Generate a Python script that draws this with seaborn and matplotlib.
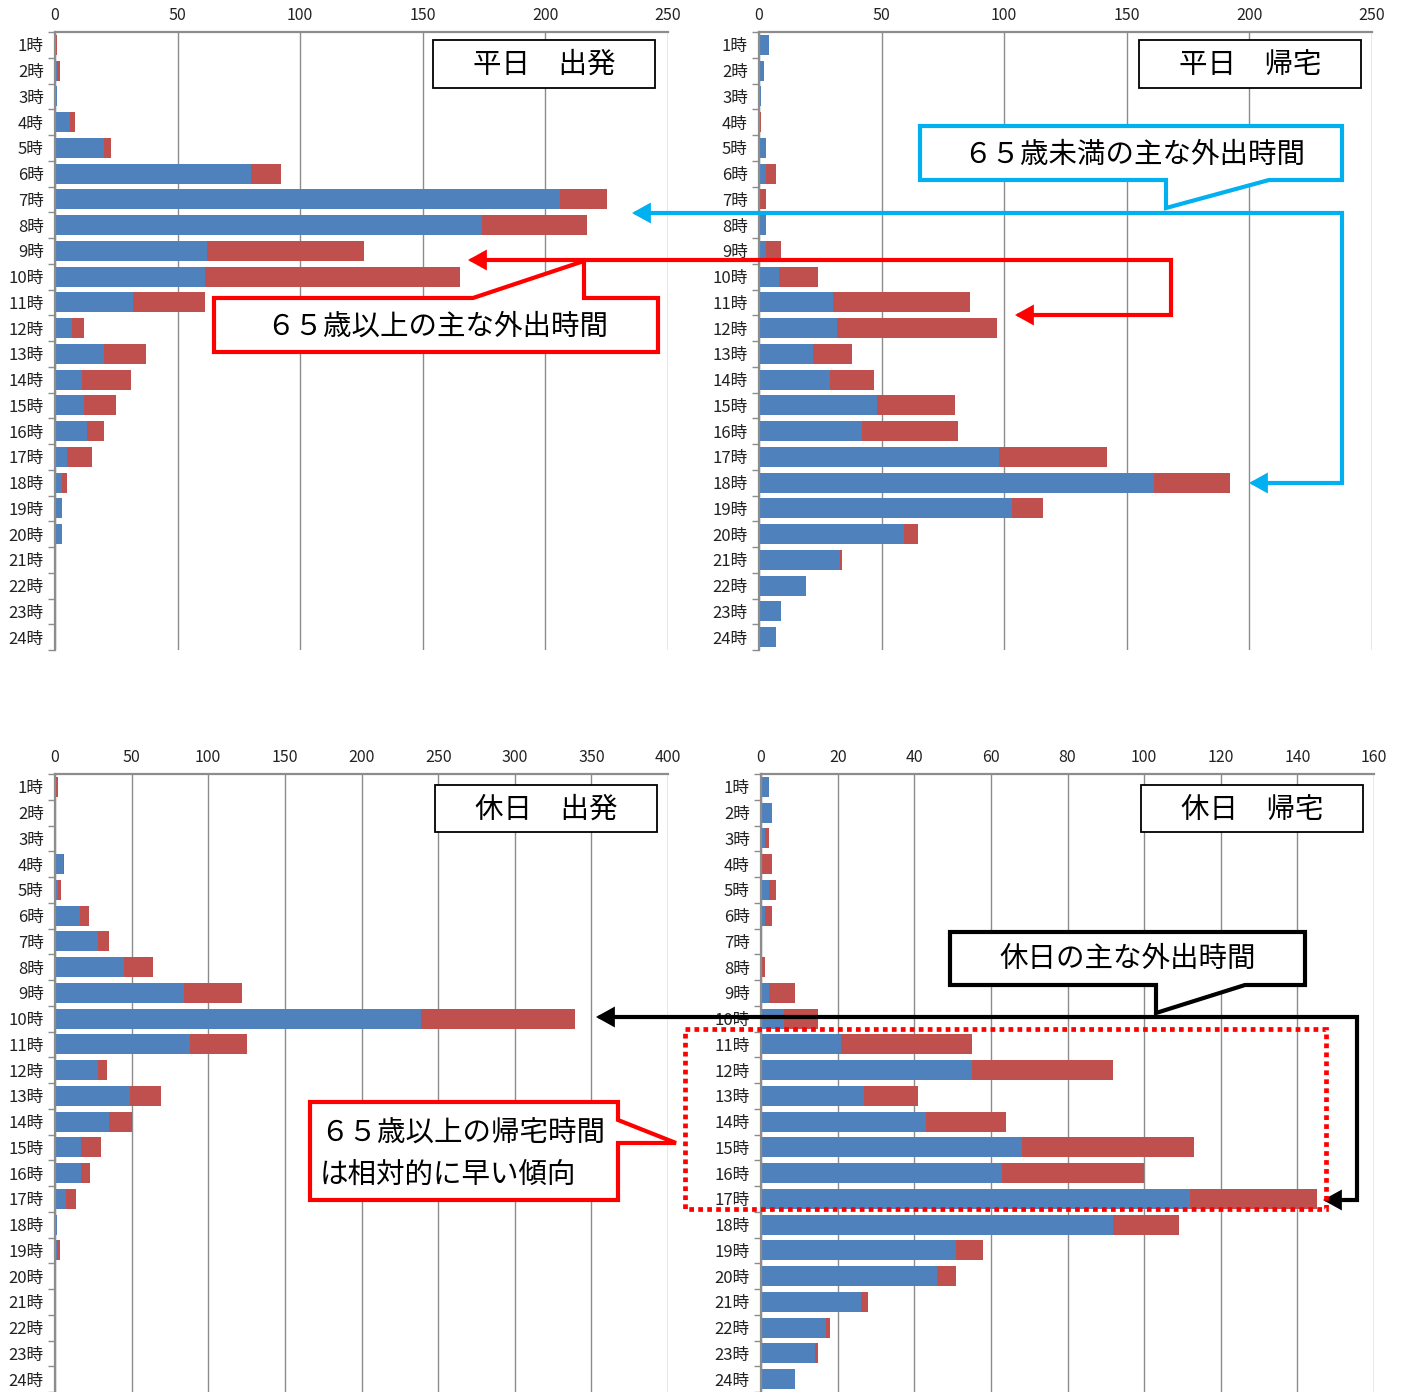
import matplotlib
matplotlib.use("Agg")
import matplotlib.pyplot as plt
import seaborn as sns
import numpy as np
from matplotlib.patches import Polygon, Rectangle, FancyArrowPatch
from matplotlib.path import Path

hours = ["1時", "2時", "3時", "4時", "5時", "6時", "7時", "8時", "9時", "10時", "11時", "12時",
         "13時", "14時", "15時", "16時", "17時", "18時", "19時", "20時", "21時", "22時", "23時", "24時"]

# 平日 出発
wd_dep_u65 = [0, 1, 1, 6, 20, 80, 206, 174, 62, 61, 32, 7, 20, 11, 12, 13, 5, 3, 3, 3, 0, 0, 0, 0]
wd_dep_o65 = [1, 1, 0, 2, 3, 12, 19, 43, 64, 104, 29, 5, 17, 20, 13, 7, 10, 2, 0, 0, 0, 0, 0, 0]
# 平日 帰宅
wd_ret_u65 = [4, 2, 1, 0, 3, 3, 0, 3, 3, 8, 30, 32, 22, 29, 48, 42, 98, 161, 103, 59, 33, 19, 9, 7]
wd_ret_o65 = [0, 0, 0, 1, 0, 4, 3, 0, 6, 16, 56, 65, 16, 18, 32, 39, 44, 31, 13, 6, 1, 0, 0, 0]
# 休日 出発
hd_dep_u65 = [0, 0, 0, 5, 2, 16, 28, 45, 84, 239, 88, 28, 49, 35, 17, 17, 7, 1, 1, 0, 0, 0, 0, 0]
hd_dep_o65 = [2, 0, 0, 1, 2, 6, 7, 19, 38, 100, 37, 6, 20, 15, 13, 6, 7, 0, 2, 0, 0, 0, 0, 0]
# 休日 帰宅
hd_ret_u65 = [2, 3, 1, 0, 2, 1, 0, 0, 2, 6, 21, 55, 27, 43, 68, 63, 112, 92, 51, 46, 26, 17, 14, 9]
hd_ret_o65 = [0, 0, 1, 3, 2, 2, 0, 1, 7, 9, 34, 37, 14, 21, 45, 37, 33, 17, 7, 5, 2, 1, 1, 0]

panel_titles = ["平日　出発", "平日　帰宅", "休日　出発", "休日　帰宅"]
x_ticks = [[0, 50, 100, 150, 200, 250], [0, 50, 100, 150, 200, 250],
           [0, 50, 100, 150, 200, 250, 300, 350, 400],
           [0, 20, 40, 60, 80, 100, 120, 140, 160]]

BLUE = "#4F81BD"
RED = "#C0504D"
GRID = "#8C8C8C"

sns.set_theme(style="white")
plt.rcParams["font.family"] = ["Noto Sans CJK JP", "DejaVu Sans"]

W, H = 1404, 1392
fig = plt.figure(figsize=(W / 100, H / 100), dpi=100)

# axes rectangles in pixels: left, top, right, bottom
rects = [(55, 32, 668, 650), (759, 32, 1372, 650), (55, 774, 668, 1392), (761, 774, 1374, 1392)]
series = [(wd_dep_u65, wd_dep_o65), (wd_ret_u65, wd_ret_o65),
          (hd_dep_u65, hd_dep_o65), (hd_ret_u65, hd_ret_o65)]

for (l, t, r, b), (u65, o65), ticks in zip(rects, series, x_ticks):
    ax = fig.add_axes([l / W, 1 - b / H, (r - l) / W, (b - t) / H])
    total = np.array(u65) + np.array(o65)
    sns.barplot(x=total, y=hours, orient="h", color=RED, saturation=1, width=0.78,
                ax=ax, edgecolor="none", linewidth=0)
    sns.barplot(x=u65, y=hours, orient="h", color=BLUE, saturation=1, width=0.78,
                ax=ax, edgecolor="none", linewidth=0)
    ax.set_xlim(ticks[0], ticks[-1])
    ax.set_ylim(23.5, -0.5)
    ax.set_xticks(ticks)
    ax.xaxis.tick_top()
    ax.set_xlabel("")
    ax.set_ylabel("")
    ax.grid(axis="x", color=GRID, linewidth=1)
    ax.grid(axis="y", visible=False)
    ax.set_axisbelow(True)
    for s in ["right", "bottom"]:
        ax.spines[s].set_visible(False)
    for s in ["top", "left"]:
        ax.spines[s].set_color(GRID)
        ax.spines[s].set_linewidth(1.6)
    ax.set_yticks(np.arange(-0.5, 24, 1), minor=True)
    ax.tick_params(axis="y", which="minor", length=5, color=GRID, width=1, left=True)
    ax.tick_params(axis="y", which="major", length=0, pad=8, labelsize=12, labelcolor="#222222")
    ax.tick_params(axis="x", which="major", length=0, pad=6, labelsize=11.5, labelcolor="#222222")

# overlay for annotations (pixel coordinates)
ov = fig.add_axes([0, 0, 1, 1], zorder=10)
ov.set_xlim(0, W)
ov.set_ylim(H, 0)
ov.axis("off")
ov.patch.set_alpha(0)

# title boxes
title_boxes = [(433, 40, 655, 88), (1139, 40, 1361, 88), (435, 785, 657, 832), (1141, 785, 1363, 832)]
for (x0, y0, x1, y1), txt in zip(title_boxes, panel_titles):
    ov.add_patch(Rectangle((x0, y0), x1 - x0, y1 - y0, facecolor="white", edgecolor="black", linewidth=1.3))
    ov.text((x0 + x1) / 2, (y0 + y1) / 2 + 1, txt, ha="center", va="center", fontsize=20.5, color="black")

CYAN = "#00B0F0"
RRED = "#FF0000"

def callout(verts, color, text, tx, ty, ha="center", lw=3):
    ov.add_patch(Polygon(verts, closed=True, facecolor="white", edgecolor=color, linewidth=lw, joinstyle="miter"))
    ov.text(tx, ty, text, ha=ha, va="center", fontsize=20.5, color="black", linespacing=1.5)

def connector(verts, color, lw=3):
    p = FancyArrowPatch(path=Path(verts), arrowstyle="<|-|>,head_length=9,head_width=5",
                        color=color, linewidth=lw, joinstyle="miter")
    ov.add_patch(p)

# blue: under 65
connector([(632, 213), (1342, 213), (1342, 483), (1249, 483)], CYAN)
callout([(920, 126), (1342, 126), (1342, 180), (1269, 180), (1166, 208), (1166, 180), (920, 180)],
        CYAN, "６５歳未満の主な外出時間", 1134, 155)

# red: 65+
connector([(468, 260), (1171, 260), (1171, 315), (1015, 315)], RRED)
callout([(214, 298), (473, 298), (584, 261), (584, 298), (658, 298), (658, 352), (214, 352)],
        RRED, "６５歳以上の主な外出時間", 437, 327)

# black: holiday
connector([(596, 1017), (1357, 1017), (1357, 1200), (1323, 1200)], "black")
callout([(950, 932), (1305, 932), (1305, 985), (1245, 985), (1156, 1013), (1156, 985), (950, 985)],
        "black", "休日の主な外出時間", 1128, 959)

# dotted rectangle
ov.add_patch(Rectangle((685, 1029), 1326 - 685, 1209 - 1029, fill=False, edgecolor=RRED,
                       linewidth=3.4, linestyle=(0, (1, 0.9)), capstyle="butt"))

# red callout: return time
callout([(310, 1102), (618, 1102), (618, 1120), (676, 1143), (618, 1143), (618, 1200), (310, 1200)],
        RRED, "６５歳以上の帰宅時間\nは相対的に早い傾向", 320, 1154, ha="left")

fig.savefig("out.png", dpi=100)
